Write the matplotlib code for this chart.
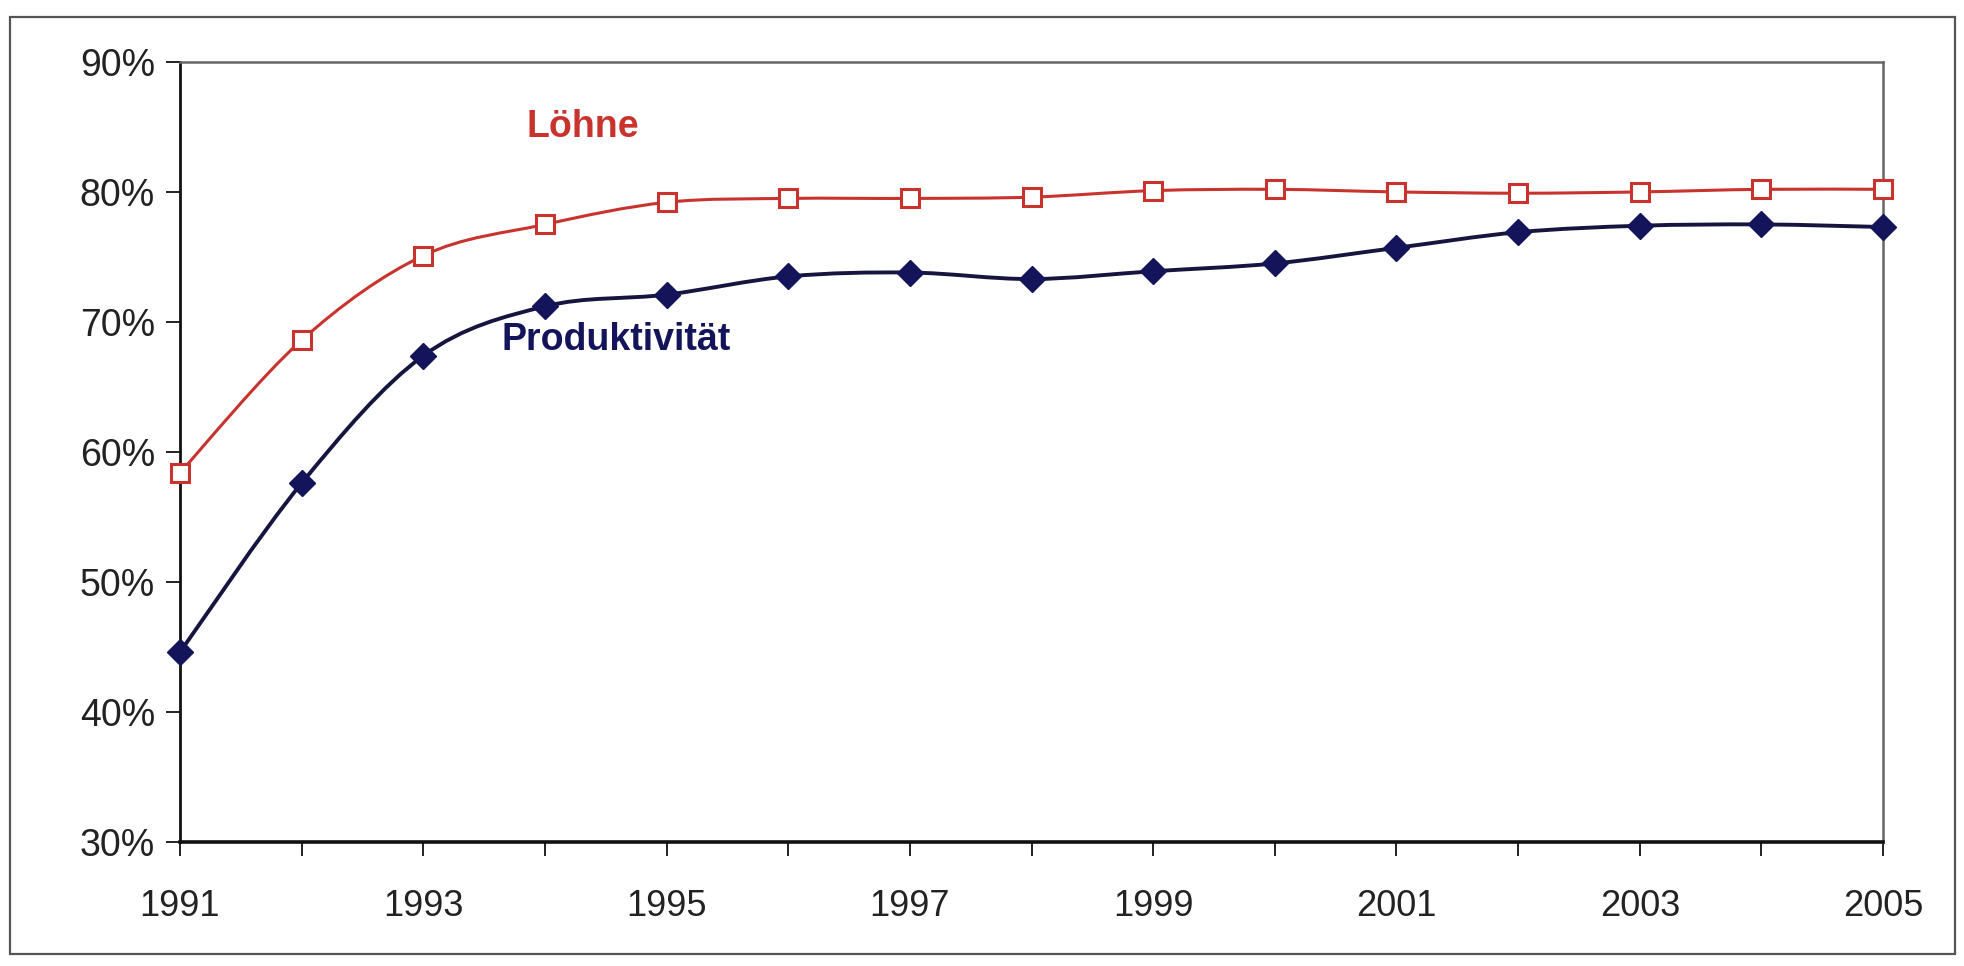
import matplotlib.pyplot as plt
from matplotlib.patches import Rectangle, PathPatch
from matplotlib.path import Path
from matplotlib.ticker import FuncFormatter, MultipleLocator

plt.rcParams['font.family'] = ['Liberation Sans', 'DejaVu Sans']

years = list(range(1991, 2006))
loehne = [58.4, 68.6, 75.1, 77.5, 79.2, 79.5, 79.5, 79.6, 80.1, 80.2,
          80.0, 79.9, 80.0, 80.2, 80.2]
produktivitaet = [44.6, 57.6, 67.4, 71.2, 72.1, 73.5, 73.8, 73.3, 73.9, 74.5,
                  75.7, 76.9, 77.4, 77.5, 77.3]

red = '#c8332e'
navy = '#14145a'


def smooth_path(xs, ys):
    # Excel-style smoothed line: cubic Bezier segments through every point
    pts = list(zip(xs, ys))
    verts = [pts[0]]
    codes = [Path.MOVETO]
    n = len(pts)
    for i in range(n - 1):
        p0 = pts[i - 1] if i > 0 else pts[i]
        p1, p2 = pts[i], pts[i + 1]
        p3 = pts[i + 2] if i + 2 < n else pts[i + 1]
        c1 = (p1[0] + (p2[0] - p0[0]) / 6, p1[1] + (p2[1] - p0[1]) / 6)
        c2 = (p2[0] - (p3[0] - p1[0]) / 6, p2[1] - (p3[1] - p1[1]) / 6)
        verts += [c1, c2, p2]
        codes += [Path.CURVE4] * 3
    return Path(verts, codes)


fig = plt.figure(figsize=(19.65, 9.66), dpi=100)
ax = fig.add_axes([0.0916, 0.1284, 0.8667, 0.8075])

# outer frame round the whole chart
fig.patches.append(Rectangle((0.005, 0.012), 0.99, 0.97, transform=fig.transFigure,
                             fill=False, edgecolor='#555555', linewidth=1.6))

ax.add_patch(PathPatch(smooth_path(years, loehne), facecolor='none', edgecolor=red,
                       linewidth=2.2, zorder=2, clip_on=False))
ax.add_patch(PathPatch(smooth_path(years, produktivitaet), facecolor='none',
                       edgecolor='#15153f', linewidth=2.8, zorder=2, clip_on=False))

ax.plot(years, loehne, linestyle='none', marker='s', markersize=13,
        markerfacecolor='white', markeredgecolor=red, markeredgewidth=2.2, clip_on=False,
        zorder=3)
ax.plot(years, produktivitaet, linestyle='none', marker='D', markersize=13,
        markerfacecolor=navy, markeredgecolor=navy, clip_on=False, zorder=4)

ax.text(1993.85, 85.0, 'Löhne', color=red, fontsize=27, fontweight='bold',
        va='center', ha='left')
ax.text(1993.64, 68.6, 'Produktivität', color=navy, fontsize=27, fontweight='bold',
        va='center', ha='left')

ax.set_xlim(1991, 2005)
ax.set_ylim(30, 90)
ax.set_xticks(years[::2])
ax.set_xticks(years, minor=True)
ax.yaxis.set_major_locator(MultipleLocator(10))
ax.yaxis.set_major_formatter(FuncFormatter(lambda v, p: f'{v:.0f}%'))

ax.tick_params(axis='both', which='both', direction='out', labelsize=26,
               colors='#222222', width=1.4)
ax.tick_params(axis='y', which='major', length=10, pad=8, labelsize=27)
ax.tick_params(axis='x', which='major', length=10, pad=24)
ax.tick_params(axis='x', which='minor', length=10)

ax.spines['left'].set_color('#111111')
ax.spines['bottom'].set_color('#111111')
ax.spines['left'].set_linewidth(2.0)
ax.spines['bottom'].set_linewidth(2.6)
for s in ['top', 'right']:
    ax.spines[s].set_color('#666666')
    ax.spines[s].set_linewidth(1.8)

fig.savefig('out.png', dpi=100, facecolor='white')
